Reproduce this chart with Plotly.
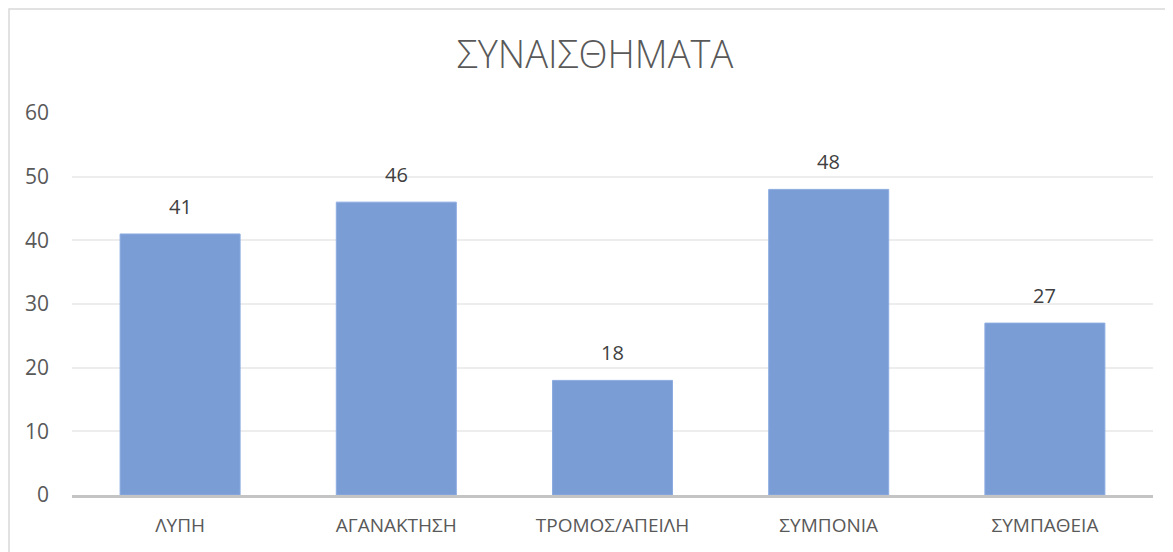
import plotly.graph_objects as go

categories = ["ΛΥΠΗ", "ΑΓΑΝΑΚΤΗΣΗ", "ΤΡΟΜΟΣ/ΑΠΕΙΛΗ", "ΣΥΜΠΟΝΙΑ", "ΣΥΜΠΑΘΕΙΑ"]
values = [41, 46, 18, 48, 27]
title_text = "ΣΥΝΑΙΣΘΗΜΑΤΑ"
y_ticks = [0, 10, 20, 30, 40, 50, 60]

OFF = 8  # page body margin
W, H = 1173 - OFF, 552 - OFF
L, R, T, B = 72 - OFF, 20, 113 - OFF, 57
pw, ph = W - L - R, H - T - B

def px_x(x):
    return (x - OFF - L) / pw

def px_y(y):
    return (H - B - (y - OFF)) / ph

FONT = "Open Sans, Noto Sans, sans-serif"

fig = go.Figure(go.Bar(
    x=categories, y=values,
    marker=dict(color="rgb(122,157,214)", line=dict(color="rgb(140,172,224)", width=1)),
    hoverinfo="x+y",
))

for c, v in zip(categories, values):
    fig.add_annotation(x=c, y=v, text=str(v), showarrow=False, yanchor="bottom",
                       yshift=12, font=dict(family=FONT, size=20, color="#404040"))

fig.update_layout(
    width=W, height=H,
    margin=dict(l=L, r=R, t=T, b=B),
    paper_bgcolor="white", plot_bgcolor="white",
    bargap=0.445,
    showlegend=False,
    title=dict(text=title_text, x=px_x(595), xref="paper", xanchor="center",
               y=1 - (55 - OFF) / H, yanchor="middle",
               font=dict(family=FONT, size=38, color="#595959", weight=300)),
    font=dict(family=FONT, color="#595959"),
)
fig.update_yaxes(range=[0, 60], tickvals=y_ticks, showgrid=True, gridcolor="#EDEDED", gridwidth=1.5,
                 zeroline=False, showline=False, ticks="", ticklabelstandoff=22,
                 tickfont=dict(size=21, color="#595959"))
fig.update_xaxes(showline=True, linecolor="#C4C4C4", linewidth=2.5, ticks="", ticklabelstandoff=11,
                 tickfont=dict(size=19, color="#595959"))

fig.add_shape(type="rect", xref="paper", yref="paper",
              x0=px_x(9), x1=px_x(1185), y0=px_y(565), y1=px_y(9),
              line=dict(color="#D9D9D9", width=1.5), fillcolor="rgba(0,0,0,0)", layer="below")

fig.write_html("out.html")
